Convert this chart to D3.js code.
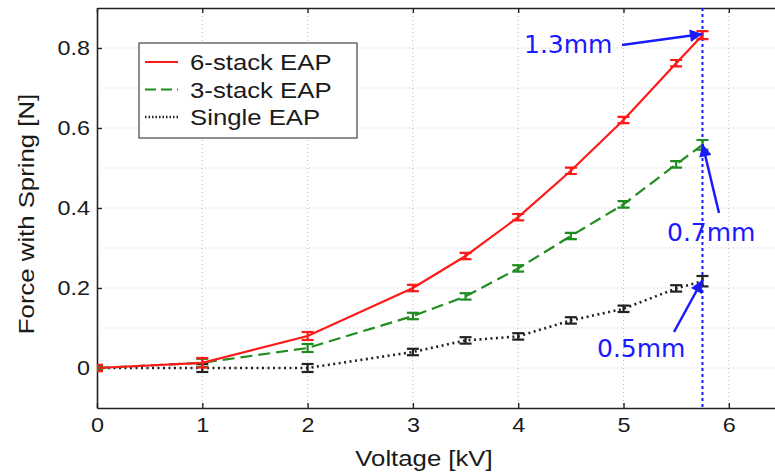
<!DOCTYPE html>
<html>
<head>
<meta charset="utf-8">
<script src="https://cdn.jsdelivr.net/npm/d3@7"></script>
<style>
  body { margin: 0; background: #fff; }
  svg { display: block; font-family: "Liberation Sans", Arial, sans-serif; }
</style>
</head>
<body>
<svg id="chart" width="775" height="475"></svg>
<script>
// data
const voltage = [0, 1, 2, 3, 3.5, 4, 4.5, 5, 5.5, 5.75];
const force6 = [0, 0.013, 0.08, 0.2, 0.28, 0.377, 0.493, 0.62, 0.762, 0.832];
const err6 = [0.008, 0.012, 0.01, 0.008, 0.008, 0.008, 0.008, 0.008, 0.008, 0.01];
const force3 = [0, 0.013, 0.05, 0.13, 0.179, 0.249, 0.33, 0.409, 0.509, 0.558];
const err3 = [0.006, 0.01, 0.01, 0.008, 0.008, 0.008, 0.008, 0.008, 0.008, 0.012];
const force1 = [0, 0, 0, 0.04, 0.069, 0.079, 0.119, 0.148, 0.199, 0.217];
const err1 = [0.006, 0.01, 0.01, 0.008, 0.008, 0.008, 0.008, 0.008, 0.008, 0.013];
const xTicks = [0, 1, 2, 3, 4, 5, 6];
const yTicks = [0, 0.2, 0.4, 0.6, 0.8];
const yGrid = [-0.1, 0, 0.1, 0.2, 0.3, 0.4, 0.5, 0.6, 0.7, 0.8];
const seriesNames = ["6-stack EAP", "3-stack EAP", "Single EAP"];
const markLine = 5.75;
const notes = [
  { text: "1.3mm", tx: 524, ty: 53, from: [622, 45], to: [5.75, 0.835] },
  { text: "0.7mm", tx: 667, ty: 241, from: [719, 213], to: [5.75, 0.56] },
  { text: "0.5mm", tx: 597, ty: 357, from: [674, 332], to: [5.75, 0.22] }
];

const svg = d3.select("#chart");
const margin = { top: 8, left: 97 };
const plotH = 400;
const plotW = 6.5 * 105.3;
const stretch = 1.17; // source text is a bit wide

const x = d3.scaleLinear().domain([0, 6.5]).range([margin.left, margin.left + plotW]);
const y = d3.scaleLinear().domain([-0.1, 0.9]).range([margin.top + plotH, margin.top]);

// grid
const grid = svg.append("g");
grid.selectAll(".gx").data(xTicks.slice(1)).enter().append("line")
  .attr("x1", d => x(d)).attr("x2", d => x(d))
  .attr("y1", y(0.9)).attr("y2", y(-0.1))
  .attr("stroke", "#bbb").attr("stroke-width", 1).attr("stroke-dasharray", "1,3");
grid.selectAll(".gy").data(yGrid.slice(1)).enter().append("line")
  .attr("x1", x(0)).attr("x2", x(6.5))
  .attr("y1", d => y(d)).attr("y2", d => y(d))
  .attr("stroke", "#bbb").attr("stroke-width", 1).attr("stroke-dasharray", "1,3");

// axes
const xAxis = svg.append("g")
  .attr("transform", `translate(0,${y(-0.1)})`)
  .call(d3.axisBottom(x).tickValues(xTicks).tickFormat(d3.format("d")).tickSizeInner(-5).tickSizeOuter(0).tickPadding(10));
const xTop = svg.append("g")
  .attr("transform", `translate(0,${y(0.9)})`)
  .call(d3.axisTop(x).tickValues(xTicks).tickFormat("").tickSizeInner(-5).tickSizeOuter(0));
const yAxis = svg.append("g")
  .attr("transform", `translate(${x(0)},0)`)
  .call(d3.axisLeft(y).tickValues(yTicks).tickFormat(d => d === 0 ? "0" : d3.format(".1f")(d)).tickSizeInner(-5).tickSizeOuter(0).tickPadding(6));
[xAxis, xTop, yAxis].forEach(g => {
  g.select(".domain").attr("stroke", "#222").attr("stroke-width", 1.6);
  g.selectAll(".tick line").attr("stroke", "#222").attr("stroke-width", 1.4);
  g.selectAll("text").attr("font-size", 20).attr("fill", "#1a1a1a")
    .attr("font-family", "Liberation Sans")
    .attr("transform", `scale(${stretch},1)`);
});

// axis labels
svg.append("text").attr("transform", `translate(424,466) scale(${stretch},1)`).attr("text-anchor", "middle")
  .attr("font-size", 22).attr("fill", "#1a1a1a").text("Voltage [kV]");
svg.append("text").attr("transform", `translate(34,214) rotate(-90) scale(${stretch},1)`).attr("text-anchor", "middle")
  .attr("font-size", 22).attr("fill", "#1a1a1a").text("Force with Spring [N]");

// vertical marker
svg.append("line")
  .attr("x1", x(markLine)).attr("x2", x(markLine))
  .attr("y1", y(0.9)).attr("y2", y(-0.1))
  .attr("stroke", "#1a1aff").attr("stroke-width", 2).attr("stroke-dasharray", "3,3");

// clip to plot area
svg.append("defs").append("clipPath").attr("id", "plotClip")
  .append("rect").attr("x", x(0)).attr("y", y(0.9))
  .attr("width", plotW).attr("height", plotH);
const plot = svg.append("g").attr("clip-path", "url(#plotClip)");

// series
const series = [
  { vals: force6, err: err6, color: "#ff1a1a", dash: null, width: 2.2, lc: "round" },
  { vals: force3, err: err3, color: "#1f8c1f", dash: "12,6", width: 2.2, lc: "butt" },
  { vals: force1, err: err1, color: "#222", dash: "2,3.5", width: 2.6, lc: "butt" }
];
const line = d3.line().x(d => x(d[0])).y(d => y(d[1]));
series.slice().reverse().forEach(s => {
  const pts = voltage.map((v, i) => [v, s.vals[i], s.err[i]]);
  plot.append("path").datum(pts).attr("d", line)
    .attr("fill", "none").attr("stroke", s.color).attr("stroke-width", s.width)
    .attr("stroke-dasharray", s.dash).attr("stroke-linecap", s.lc);
  const eb = plot.append("g").attr("stroke", s.color).attr("stroke-width", 2.2);
  eb.selectAll(".v").data(pts).enter().append("line")
    .attr("x1", d => x(d[0])).attr("x2", d => x(d[0]))
    .attr("y1", d => y(d[1] - d[2])).attr("y2", d => y(d[1] + d[2]));
  [-1, 1].forEach(sg => {
    eb.selectAll(".c" + sg).data(pts).enter().append("line")
      .attr("x1", d => x(d[0]) - 6).attr("x2", d => x(d[0]) + 6)
      .attr("y1", d => y(d[1] + sg * d[2])).attr("y2", d => y(d[1] + sg * d[2]));
  });
});

// annotations
svg.select("defs").append("marker").attr("id", "ah").attr("viewBox", "0 0 10 10")
  .attr("refX", 10).attr("refY", 5).attr("markerWidth", 6).attr("markerHeight", 5)
  .attr("markerUnits", "strokeWidth").attr("orient", "auto")
  .append("path").attr("d", "M0,0 L10,5 L0,10 Z").attr("fill", "#1a1aff");
notes.forEach(n => {
  svg.append("line")
    .attr("x1", n.from[0]).attr("y1", n.from[1])
    .attr("x2", x(n.to[0])).attr("y2", y(n.to[1]))
    .attr("stroke", "#1a1aff").attr("stroke-width", 2.5).attr("marker-end", "url(#ah)");
  svg.append("text").attr("x", n.tx).attr("y", n.ty)
    .attr("font-family", "DejaVu Sans")
    .attr("font-size", 25).attr("fill", "#1a1aff").text(n.text);
});

// legend
const lg = svg.append("g");
lg.append("rect").attr("x", 139).attr("y", 43).attr("width", 218).attr("height", 95)
  .attr("fill", "#fff").attr("stroke", "#444").attr("stroke-width", 1.2);
seriesNames.forEach((name, i) => {
  const cy = 62 + i * 27.5;
  const s = series[i];
  lg.append("line").attr("x1", 145).attr("x2", 178).attr("y1", cy).attr("y2", cy)
    .attr("stroke", s.color).attr("stroke-width", s.width)
    .attr("stroke-dasharray", i === 1 ? "11,5" : (i === 2 ? "1.5,2" : null));
  lg.append("text").attr("transform", `translate(190,${cy + 8}) scale(${stretch},1)`)
    .attr("font-size", 22).attr("fill", "#1a1a1a").text(name);
});
</script>
</body>
</html>
